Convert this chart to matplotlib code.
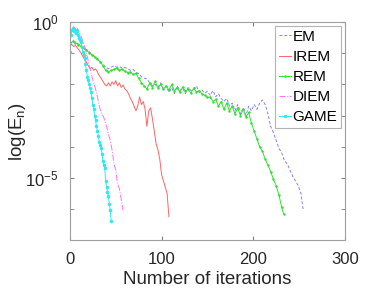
import numpy as np
import matplotlib
matplotlib.use('Agg')
import matplotlib.pyplot as plt
from matplotlib.ticker import FixedLocator, NullFormatter

plt.rcParams['font.family'] = ['Liberation Sans', 'DejaVu Sans']
plt.rcParams['mathtext.fontset'] = 'custom'
plt.rcParams['mathtext.rm'] = 'Liberation Sans'
plt.rcParams['mathtext.it'] = 'Liberation Sans'

# log10 of the error
em_it = np.arange(0, 255, 3).tolist() + [254, 255]
em_log = [-0.72, -0.60, -0.64, -0.70, -0.76, -0.82, -0.88, -0.95, -1.02, -1.10,
          -1.18, -1.25, -1.35, -1.45, -1.50, -1.45, -1.40, -1.45, -1.42, -1.48,
          -1.45, -1.50, -1.55, -1.52, -1.62, -1.65, -1.75, -1.80, -1.82, -1.95,
          -2.05, -2.00, -2.10, -1.95, -2.15, -2.05, -2.25, -2.10, -2.30, -2.05,
          -2.20, -2.12, -2.30, -2.10, -2.20, -2.15, -2.05, -2.25, -2.18, -2.28,
          -2.22, -2.35, -2.20, -2.40, -2.30, -2.45, -2.55, -2.45, -2.70, -2.60,
          -2.85, -2.65, -2.95, -2.75, -3.00, -2.70, -2.85, -2.65, -2.80, -2.60,
          -2.50, -2.65, -2.95, -3.35, -3.55, -3.80, -4.05, -4.20, -4.45, -4.55,
          -4.75, -4.95, -5.10, -5.25, -5.50, -5.95, -6.05]

irem_it = np.arange(0, 109, 2).tolist()
irem_log = [-0.70, -0.72, -0.78, -0.75, -0.82, -0.90, -0.98, -1.10, -1.20, -1.28,
            -1.40, -1.50, -1.45, -1.55, -1.50, -1.60, -1.72, -1.80, -1.90, -2.00,
            -2.05, -1.95, -2.05, -1.92, -2.00, -1.88, -2.05, -1.95, -2.10, -2.02,
            -2.15, -2.20, -2.30, -2.45, -2.55, -2.70, -2.85, -2.70, -2.40, -2.65,
            -2.55, -2.80, -3.35, -2.85, -2.75, -3.10, -3.50, -3.90, -4.10, -4.40,
            -4.90, -5.10, -5.30, -5.50, -6.25]

rem_it = np.arange(0, 232, 3).tolist() + [233]
rem_log = [-0.70, -0.62, -0.66, -0.72, -0.78, -0.84, -0.90, -0.98, -1.05, -1.12,
           -1.20, -1.27, -1.40, -1.55, -1.60, -1.55, -1.52, -1.48, -1.55, -1.50,
           -1.58, -1.62, -1.60, -1.68, -1.65, -1.80, -1.95, -2.05, -2.15, -1.95,
           -2.10, -1.90, -2.12, -2.00, -2.15, -2.05, -2.18, -2.00, -2.20, -2.10,
           -2.25, -2.08, -2.22, -2.15, -2.28, -2.12, -2.25, -2.20, -2.30, -2.35,
           -2.42, -2.40, -2.55, -2.48, -2.70, -2.55, -2.80, -2.60, -2.85, -2.70,
           -2.95, -2.75, -3.00, -2.80, -3.05, -2.90, -3.25, -3.50, -3.75, -4.00,
           -4.15, -4.40, -4.60, -4.80, -5.05, -5.25, -5.55, -5.95, -6.15]

diem_it = np.arange(0, 59, 2).tolist()
diem_log = [-0.50, -0.30, -0.15, -0.35, -0.20, -0.30, -0.45, -0.60, -0.80, -1.00,
            -1.25, -1.50, -1.75, -1.95, -2.15, -2.40, -2.70, -2.90, -3.00, -3.15,
            -3.35, -3.60, -3.80, -4.10, -4.55, -4.75, -5.20, -5.35, -5.70, -6.05]

game_it = np.arange(0, 46).tolist()
game_log = [-0.95, -0.40, -0.25, -0.20, -0.30, -0.22, -0.28, -0.35, -0.30, -0.40,
            -0.50, -0.58, -0.65, -0.80, -0.95, -1.05, -1.15, -1.35, -1.55, -1.75,
            -1.85, -2.00, -2.10, -2.25, -2.45, -2.65, -2.80, -3.00, -3.15, -3.35,
            -3.50, -3.65, -3.85, -3.95, -4.05, -4.25, -4.45, -4.60, -4.70, -5.10,
            -5.30, -5.45, -5.60, -5.85, -6.05, -6.40]

fig = plt.figure(figsize=(3.82, 2.91), dpi=100)
ax = fig.add_axes([0.183, 0.175, 0.720, 0.749])

ax.semilogy(em_it, 10.0 ** np.array(em_log), '--', color='#8080ff', lw=0.7,
            dashes=(3, 2), label='EM')
ax.semilogy(irem_it, 10.0 ** np.array(irem_log), '-', color='#ff6464', lw=0.7, label='IREM')
ax.semilogy(rem_it, 10.0 ** np.array(rem_log), '.-', color='#30e030', lw=0.7, ms=1.5,
            label='REM')
ax.semilogy(diem_it, 10.0 ** np.array(diem_log), '-.', color='#ff70ff', lw=0.7, label='DIEM')
ax.semilogy(game_it, 10.0 ** np.array(game_log), '.-', color='#30e8f0', lw=0.7, ms=3,
            label='GAME')

ax.set_xlim(0, 300)
ax.set_ylim(1e-7, 1)
ax.set_xticks([0, 100, 200, 300])
ax.yaxis.set_major_locator(FixedLocator([1e-5, 1e0]))
ax.yaxis.set_minor_locator(FixedLocator([10.0 ** k for k in range(-7, 1)]))
ax.yaxis.set_minor_formatter(NullFormatter())
ax.tick_params(which='both', direction='in', top=True, right=True, color='#808080',
               labelsize=12, labelcolor='#262626', length=3)
ax.tick_params(axis='x', pad=8.5)
ax.tick_params(axis='y', pad=8)
for s in ax.spines.values():
    s.set_color('#a0a0a0')
    s.set_linewidth(0.8)

ax.set_xlabel('Number of iterations', fontsize=13.5, color='#262626', labelpad=3)
ax.set_ylabel(r'log(E$_\mathregular{n}$)', fontsize=13.5, color='#262626', labelpad=-2)

leg = ax.legend(loc='upper right', fontsize=11, fancybox=False, borderpad=0.25,
                handlelength=0.8, handletextpad=0.1, labelspacing=0.4,
                borderaxespad=0.25)
leg.get_frame().set_edgecolor('#a0a0a0')
leg.get_frame().set_linewidth(0.8)

fig.savefig('out.png', dpi=100)
